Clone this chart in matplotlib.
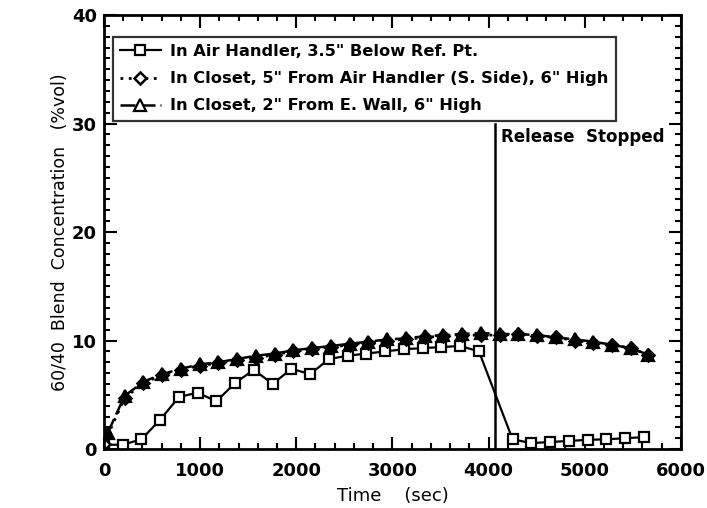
import matplotlib
matplotlib.use("Agg")
import matplotlib.pyplot as plt
from matplotlib.ticker import MultipleLocator

# values (time in s, concentration in %vol)
t_air = [0, 195, 390, 585, 780, 975, 1170, 1365, 1560, 1755, 1950,
         2145, 2340, 2535, 2730, 2925, 3120, 3315, 3510, 3705, 3900,
         4250, 4445, 4640, 4835, 5030, 5225, 5420, 5615]
c_air = [0.4, 0.4, 0.9, 2.7, 4.8, 5.2, 4.4, 6.1, 7.3, 6.0, 7.4,
         6.9, 8.3, 8.6, 8.8, 9.0, 9.2, 9.3, 9.4, 9.5, 9.0,
         0.9, 0.55, 0.65, 0.75, 0.85, 0.9, 1.0, 1.1]

t_closet = [0, 215, 410, 605, 800, 995, 1190, 1385, 1580, 1775, 1970,
            2165, 2360, 2555, 2750, 2945, 3140, 3335, 3530, 3725, 3920,
            4115, 4310, 4505, 4700, 4895, 5090, 5285, 5480, 5660]
c_diamond = [0.5, 4.7, 6.1, 6.8, 7.3, 7.7, 7.9, 8.2, 8.4, 8.7, 9.0,
             9.2, 9.4, 9.6, 9.8, 10.0, 10.1, 10.3, 10.4, 10.5, 10.5,
             10.5, 10.6, 10.4, 10.3, 10.0, 9.8, 9.6, 9.3, 8.7]

t_wall = [40, 215, 410, 605, 800, 995, 1190, 1385, 1580, 1775, 1970,
          2165, 2360, 2555, 2750, 2945, 3140, 3335, 3530, 3725, 3920,
          4115, 4310, 4505, 4700, 4895, 5090, 5285, 5480, 5660]
c_wall = [1.5, 4.9, 6.2, 6.9, 7.4, 7.8, 8.0, 8.3, 8.6, 8.8, 9.1,
          9.3, 9.5, 9.7, 9.9, 10.1, 10.2, 10.4, 10.5, 10.6, 10.7,
          10.6, 10.6, 10.5, 10.3, 10.1, 9.9, 9.6, 9.3, 8.7]

labels = ['In Air Handler, 3.5" Below Ref. Pt.',
          'In Closet, 5" From Air Handler (S. Side), 6" High',
          'In Closet, 2" From E. Wall, 6" High']

release_t = 4070

plt.rcParams['font.family'] = ['DejaVu Sans']
plt.rcParams['font.weight'] = 'bold'

fig = plt.figure(figsize=(7.07, 5.08), dpi=100)
ax = fig.add_axes([0.147, 0.116, 0.816, 0.8545])

ax.plot(t_air, c_air, color='black', lw=1.6, marker='s', ms=6.5,
        mfc='white', mec='black', mew=1.6, label=labels[0])
ax.plot(t_closet, c_diamond, color='black', lw=2, ls=(0, (1, 2)), marker='D', ms=6,
        mfc='white', mec='black', mew=1.8, label=labels[1])
ax.plot(t_wall, c_wall, color='black', lw=1.8, ls=(0, (6, 2)), marker='^', ms=8,
        mfc='black', mec='black', mew=1.6, label=labels[2])

# release stopped marker
ax.plot([release_t, release_t], [0, 30], color='black', lw=1.8)
ax.text(release_t + 60, 29.6, 'Release  Stopped', fontsize=12, va='top', ha='left')

ax.set_xlim(0, 6000)
ax.set_ylim(0, 40)
ax.xaxis.set_major_locator(MultipleLocator(1000))
ax.xaxis.set_minor_locator(MultipleLocator(200))
ax.yaxis.set_major_locator(MultipleLocator(10))
ax.yaxis.set_minor_locator(MultipleLocator(1))
ax.tick_params(which='both', direction='in', top=True, right=True, width=1.5)
ax.tick_params(which='major', length=9, labelsize=13)
ax.tick_params(axis='x', which='major', pad=9)
ax.tick_params(axis='y', which='major', pad=5)
ax.tick_params(which='minor', length=4)
for sp in ax.spines.values():
    sp.set_linewidth(2)

ax.set_xlabel('Time    (sec)', fontsize=13, labelpad=5)
ax.set_ylabel('60/40  Blend  Concentration   (%vol)', fontsize=12.5, labelpad=2)

leg = ax.legend(loc='upper left', bbox_to_anchor=(0.015, 0.95), borderaxespad=0,
                fontsize=11.7, frameon=True, fancybox=False, edgecolor='black',
                handlelength=2.5, handletextpad=0.6, labelspacing=0.75,
                borderpad=0.45)
leg.get_frame().set_linewidth(1.6)
leg.legend_handles[2].set_markerfacecolor('white')

fig.savefig('out.png', dpi=100)
